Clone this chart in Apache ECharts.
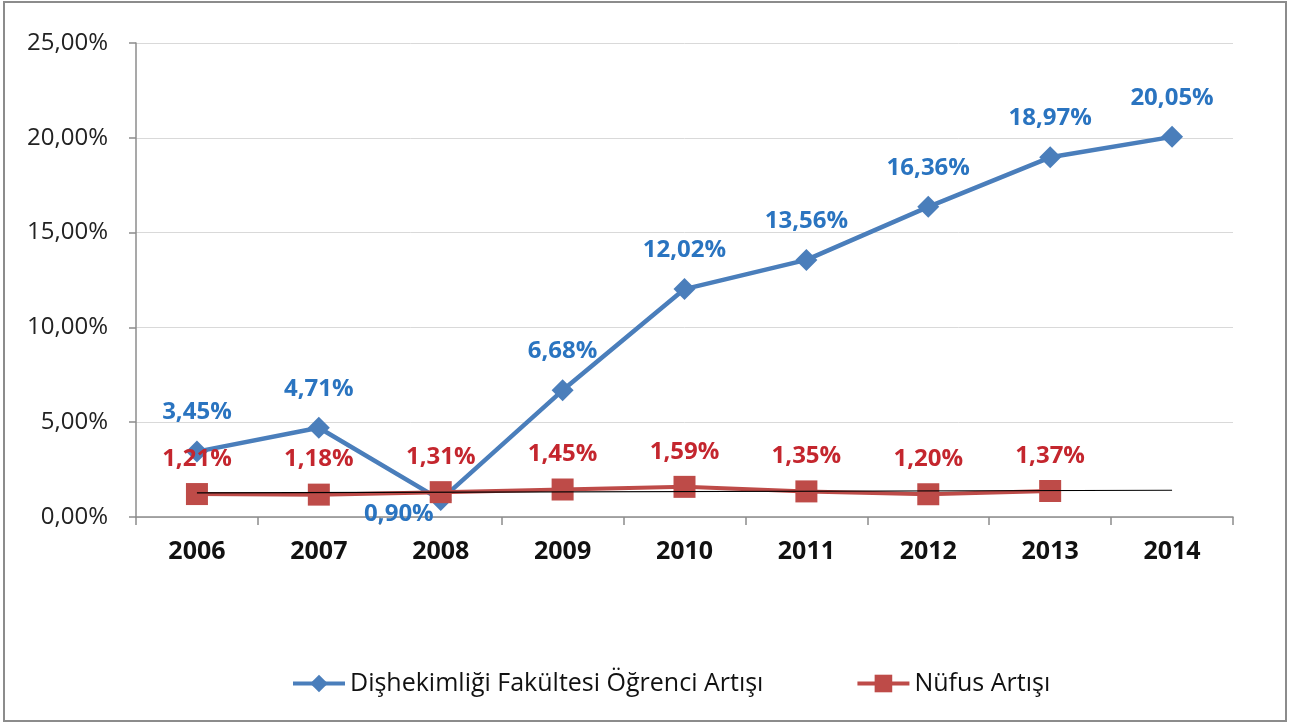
<!DOCTYPE html>
<html>
<head>
<meta charset="utf-8">
<script src="https://cdn.jsdelivr.net/npm/echarts@6/dist/echarts.min.js"></script>
<style>
  html, body { margin: 0; padding: 0; background: #fff; }
  #chart { width: 1291px; height: 727px; }
</style>
</head>
<body>
<div id="chart"></div>
<script>
// data
var years = ["2006", "2007", "2008", "2009", "2010", "2011", "2012", "2013", "2014"];
var ogrenci = [3.45, 4.71, 0.90, 6.68, 12.02, 13.56, 16.36, 18.97, 20.05];
var nufus = [1.21, 1.18, 1.31, 1.45, 1.59, 1.35, 1.20, 1.37, null];
// linear trend line of population series (end points as drawn)
var trendYears = ["2006", "2014"];
var trendValues = [1.27, 1.41];

var FONT = "'Open Sans', 'DejaVu Sans', sans-serif";

function pct(v) {
  return v.toFixed(2).replace(".", ",") + "%";
}

// 2008 label of the blue series sits below-left of its point
var ogrenciData = ogrenci.map(function (v, i) {
  if (i === 2) {
    return { value: v, label: { position: "left", distance: 0, offset: [4, 14] } };
  }
  return v;
});

var chart = echarts.init(document.getElementById("chart"));
chart.setOption({
  backgroundColor: "#fff",
  animation: false,
  textStyle: { fontFamily: FONT },
  grid: { left: 136, right: 58, top: 43, bottom: 210 },
  graphic: [{
    type: "rect",
    shape: { x: 4, y: 2, width: 1282, height: 719 },
    style: { fill: "none", stroke: "#8c8c8c", lineWidth: 2 },
    z: -1
  }],
  legend: {
    bottom: 26,
    left: 286,
    itemWidth: 52,
    itemHeight: 22,
    itemGap: 92,
    textStyle: { fontFamily: FONT, fontSize: 25, color: "#111" },
    data: [
      { name: "Dişhekimliği Fakültesi Öğrenci Artışı", lineStyle: { width: 4 } },
      { name: "Nüfus Artışı", lineStyle: { width: 4 } }
    ]
  },
  xAxis: {
    type: "category",
    data: years,
    boundaryGap: true,
    axisLine: { lineStyle: { color: "#8c8c8c", width: 1.5 } },
    axisTick: { show: true, alignWithLabel: false, length: 8, lineStyle: { color: "#8c8c8c", width: 1.5 } },
    axisLabel: { fontFamily: FONT, fontSize: 25, fontWeight: "bold", color: "#111", margin: 22 }
  },
  yAxis: {
    type: "value",
    min: 0,
    max: 25,
    interval: 5,
    axisLine: { show: true, lineStyle: { color: "#8c8c8c", width: 1.5 } },
    axisTick: { show: true, length: 7, lineStyle: { color: "#8c8c8c", width: 1.5 } },
    splitLine: { lineStyle: { color: "#d9d9d9", width: 1 } },
    axisLabel: {
      fontFamily: FONT, fontSize: 24, color: "#222", margin: 28,
      formatter: function (v) { return pct(v); }
    }
  },
  series: [
    {
      name: "Dişhekimliği Fakültesi Öğrenci Artışı",
      type: "line",
      data: ogrenciData,
      symbol: "diamond",
      symbolSize: 22,
      lineStyle: { color: "#4a7ebb", width: 4.5 },
      itemStyle: { color: "#4a7ebb" },
      z: 3,
      label: {
        show: true,
        position: "top",
        distance: 16,
        fontFamily: FONT,
        fontSize: 24,
        fontWeight: "bold",
        color: "#2a74c0",
        formatter: function (p) { return pct(p.value); }
      }
    },
    {
      name: "Nüfus Artışı",
      type: "line",
      data: nufus,
      symbol: "rect",
      symbolSize: 22,
      lineStyle: { color: "#be4b48", width: 4 },
      itemStyle: { color: "#be4b48" },
      z: 4,
      label: {
        show: true,
        position: "top",
        distance: 12,
        fontFamily: FONT,
        fontSize: 24,
        fontWeight: "bold",
        color: "#c4262e",
        formatter: function (p) { return pct(p.value); }
      }
    },
    {
      name: "trend",
      type: "line",
      data: [[trendYears[0], trendValues[0]], [trendYears[1], trendValues[1]]],
      symbol: "none",
      lineStyle: { color: "#000", width: 1.2 },
      z: 5,
      silent: true
    }
  ]
});
</script>
</body>
</html>
